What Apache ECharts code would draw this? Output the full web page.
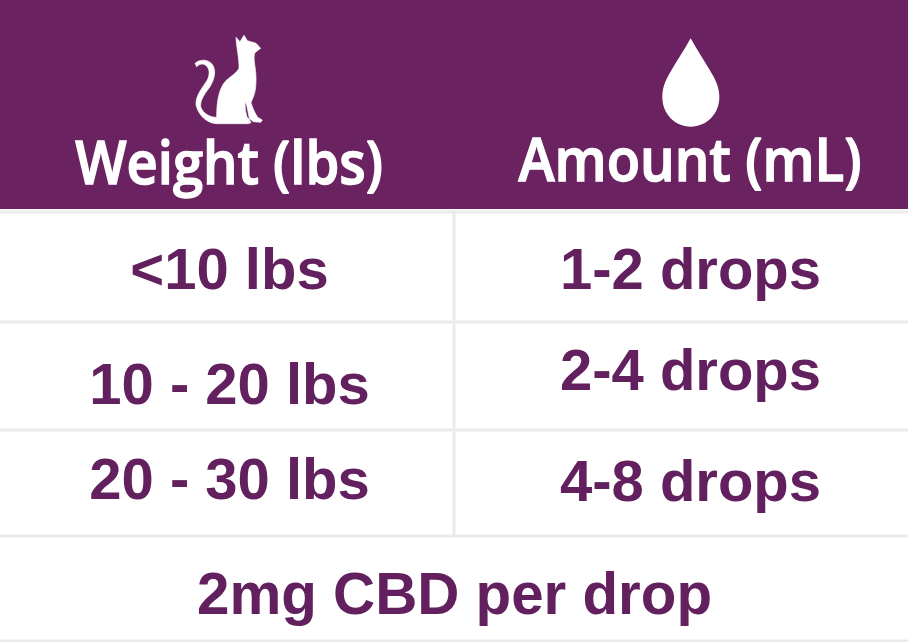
<!DOCTYPE html>
<html>
<head>
<meta charset="utf-8">
<style>html,body{margin:0;padding:0;background:#fff}#chart{width:908px;height:642px}</style>
<script src="https://cdn.jsdelivr.net/npm/echarts@6/dist/echarts.min.js"></script>
</head>
<body>
<div id="chart"></div>
<script>
// table content
const headers = ['Weight (lbs)', 'Amount (mL)']
const weights = ['<10 lbs', '10 - 20 lbs', '20 - 30 lbs']
const amounts = ['1-2 drops', '2-4 drops', '4-8 drops']
const footer = '2mg CBD per drop'

const purple = '#6a2360'
const textPurple = '#63205e'
const lineGray = '#ebebeb'

// text centre lines, they are not quite level in the picture
const weightY = [273, 388, 483]
const amountY = [273, 374, 485]
const rowLines = [212, 322, 430, 536, 641]

// traced at 3x from the picture
const catPath = 'M138 22 L150 35 L162 16 L172 32 L198 40 L212 55 L205 60 L195 68 C191 75 192 90 195 110 C200 140 199 175 192 195 L183 218 C187 232 195 250 203 262 L217 270 L212 277 L190 275 L178 265 L170 225 L165 215 L166 240 L171 262 L178 268 L183 278 L175 281 L80 281 C50 280 25 255 18 225 C16 195 40 170 52 150 C62 130 58 110 42 103 C32 100 25 105 20 110 L15 100 C28 88 55 85 68 105 C80 125 72 150 60 170 C45 190 30 210 32 230 C38 250 60 262 80 262 C80 220 85 180 105 155 C120 140 140 130 147 115 C148 85 140 60 138 22 Z'
const dropPath = 'M212 55 C190 95 165 130 146 165 C132 190 127 210 127 232 C127 282 165 320 212 320 C260 320 298 282 298 232 C298 210 292 190 278 165 C258 130 234 95 212 55 Z'

// graphic component has no plain path type, so register the icons as shapes
echarts.graphic.registerShape('catIcon', echarts.graphic.extendPath(catPath, {}))
echarts.graphic.registerShape('dropIcon', echarts.graphic.extendPath(dropPath, {}))

function text(value, x, y, size, font, weight, color) {
  return {
    type: 'text',
    x: x,
    y: y,
    style: {
      text: value,
      fill: color,
      font: weight + ' ' + size + 'px "' + font + '"',
      textAlign: 'center',
      textVerticalAlign: 'middle'
    }
  }
}

// header font is narrower than Open Sans, squeeze it a little
function headerText(value, x, y, squeeze) {
  const el = text(value, x, y, 60, 'Open Sans', 600, '#fff')
  el.scaleX = squeeze
  el.style.stroke = '#fff'
  el.style.lineWidth = 1.4
  return el
}

function hline(y) {
  return { type: 'line', shape: { x1: 0, y1: y, x2: 908, y2: y }, style: { stroke: lineGray, lineWidth: 3 } }
}

const elements = []
elements.push({ type: 'rect', shape: { x: 0, y: 0, width: 908, height: 209 }, style: { fill: purple } })
rowLines.forEach((y) => elements.push(hline(y)))
elements.push({ type: 'line', shape: { x1: 454, y1: 210, x2: 454, y2: 536 }, style: { stroke: lineGray, lineWidth: 3 } })
elements.push({ type: 'catIcon', x: 190, y: 30, scaleX: 1 / 3, scaleY: 1 / 3, style: { fill: '#fff', stroke: '#fff', lineWidth: 2 } })
elements.push({ type: 'dropIcon', x: 620, y: 20, scaleX: 1 / 3, scaleY: 1 / 3, style: { fill: '#fff' } })
elements.push(headerText(headers[0], 229, 167, 0.905))
elements.push(headerText(headers[1], 690, 164, 0.91))
weights.forEach((w, i) => elements.push(text(w, 229.5, weightY[i], 58, 'Liberation Sans', 700, textPurple)))
amounts.forEach((a, i) => elements.push(text(a, 690.5, amountY[i], 58, 'Liberation Sans', 700, textPurple)))
elements.push(text(footer, 454.5, 598, 58.3, 'Liberation Sans', 700, textPurple))

const chart = echarts.init(document.getElementById('chart'))
chart.setOption({
  animation: false,
  backgroundColor: '#fff',
  graphic: { elements: elements }
})
</script>
</body>
</html>
